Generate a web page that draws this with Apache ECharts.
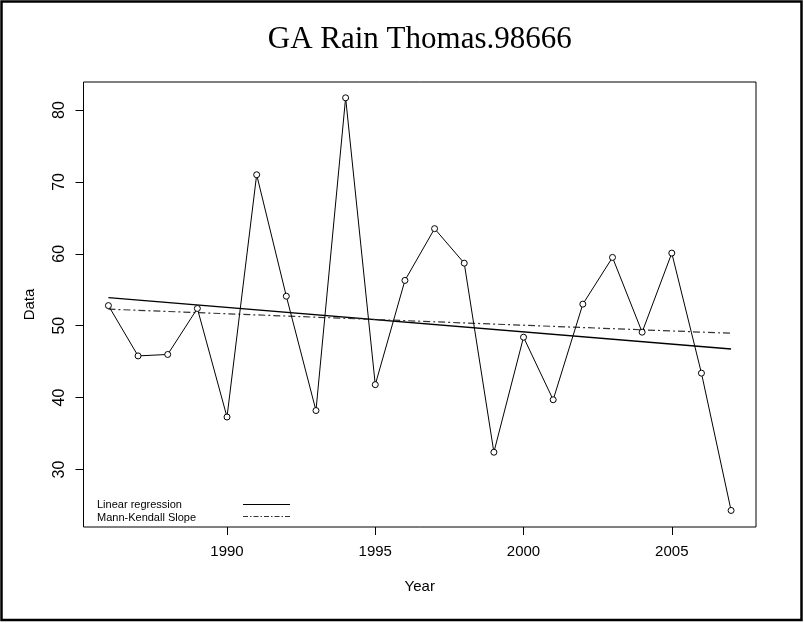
<!DOCTYPE html>
<html>
<head>
<meta charset="utf-8">
<script src="https://cdn.jsdelivr.net/npm/echarts@6/dist/echarts.min.js"></script>
<style>html,body{margin:0;padding:0;background:#fff}#c{width:804px;height:623px}</style>
</head>
<body>
<div id="c"></div>
<script>
const years = [1986,1987,1988,1989,1990,1991,1992,1993,1994,1995,1996,1997,1998,1999,2000,2001,2002,2003,2004,2005,2006,2007];
const values = [52.8,45.8,46.0,52.4,37.3,71.0,54.1,38.2,81.7,41.8,56.3,63.5,58.7,32.4,48.4,39.7,53.0,59.5,49.1,60.1,43.4,24.3];
const linRegYears = [1986, 2007];
const linRegValues = [53.9, 46.75];
const mkYears = [1986, 2007];
const mkValues = [52.3, 48.95];
const xTicks = [1990, 1995, 2000, 2005];
const yTicks = [30, 40, 50, 60, 70, 80];
const titleText = 'GA Rain Thomas.98666';
const legendNames = ['Linear regression', 'Mann-Kendall Slope'];

const chart = echarts.init(document.getElementById('c'), null, {renderer: 'canvas'});
const pairs = (xs, ys) => xs.map((x, i) => [x, ys[i]]);
const sans = 'Liberation Sans, Arial, sans-serif';
const gridL = 83.5, gridR = 756, gridT = 82, gridB = 527;

chart.setOption({
  animation: false,
  backgroundColor: '#fff',
  grid: {left: gridL, top: gridT, width: gridR - gridL, height: gridB - gridT,
         show: true, borderColor: '#000', borderWidth: 1, backgroundColor: 'transparent'},
  xAxis: {
    type: 'value', min: 1985.16, max: 2007.84,
    name: 'Year', nameLocation: 'middle', nameGap: 52,
    nameTextStyle: {fontFamily: sans, fontSize: 15, color: '#000'},
    axisLine: {show: false},
    splitLine: {show: false},
    axisTick: {show: true, customValues: xTicks, length: 8, lineStyle: {color: '#000'}},
    axisLabel: {customValues: xTicks, margin: 17, fontFamily: sans, fontSize: 15, color: '#000',
                formatter: v => String(v)}
  },
  yAxis: {
    type: 'value', min: 22.0, max: 83.9,
    name: 'Data', nameLocation: 'middle', nameGap: 46, nameRotate: 90,
    nameTextStyle: {fontFamily: sans, fontSize: 15, color: '#000'},
    axisLine: {show: false},
    splitLine: {show: false},
    axisTick: {show: true, customValues: yTicks, length: 8, lineStyle: {color: '#000'}},
    axisLabel: {customValues: yTicks, rotate: 90, margin: 16, fontFamily: sans, fontSize: 16, color: '#000',
                formatter: v => String(v)}
  },
  series: [
    {type: 'line', data: pairs(years, values), symbol: 'circle', symbolSize: 6,
     showAllSymbol: true,
     lineStyle: {color: '#000', width: 1},
     itemStyle: {color: '#fff', borderColor: '#000', borderWidth: 1}, z: 3},
    {type: 'line', data: pairs(linRegYears, linRegValues), symbol: 'none',
     lineStyle: {color: '#000', width: 1.4}, z: 2},
    {type: 'line', data: pairs(mkYears, mkValues), symbol: 'none',
     lineStyle: {color: '#333', width: 1.2, type: [7, 3, 2, 3]}, z: 2}
  ],
  graphic: [
    {type: 'rect', shape: {x: 1.5, y: 1.5, width: 800, height: 618.5},
     style: {fill: 'none', stroke: '#000', lineWidth: 2.5}, silent: true},
    {type: 'text', x: (gridL + gridR) / 2, y: 40,
     style: {text: titleText, font: '31px "Liberation Serif", "Times New Roman", serif',
             fill: '#000', textAlign: 'center', textVerticalAlign: 'middle'}},
    {type: 'text', x: 97, y: 505,
     style: {text: legendNames[0], font: '11px "Liberation Sans", Arial, sans-serif',
             fill: '#000', textAlign: 'left', textVerticalAlign: 'middle'}},
    {type: 'text', x: 97, y: 517.5,
     style: {text: legendNames[1], font: '11px "Liberation Sans", Arial, sans-serif',
             fill: '#000', textAlign: 'left', textVerticalAlign: 'middle'}},
    {type: 'line', shape: {x1: 243, y1: 504.5, x2: 290, y2: 504.5},
     style: {stroke: '#000', lineWidth: 1.2}},
    {type: 'line', shape: {x1: 243, y1: 516.5, x2: 290, y2: 516.5},
     style: {stroke: '#333', lineWidth: 1, lineDash: [5, 2, 1.5, 2]}}
  ]
});
</script>
</body>
</html>
